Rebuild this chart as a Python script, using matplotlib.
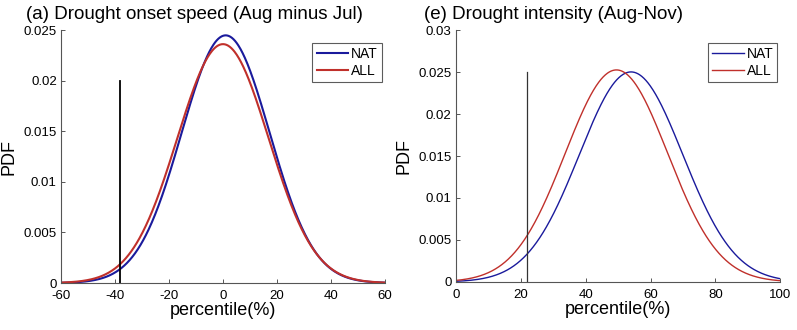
import numpy as np
import matplotlib
matplotlib.use("Agg")
import matplotlib.pyplot as plt

plt.rcParams['font.family'] = ['Liberation Sans', 'DejaVu Sans']

# Panel (a): Drought onset speed (Aug minus Jul) - normal PDF parameters
a_series = ["NAT", "ALL"]
a_mean = [1.0, 0.0]
a_std = [16.3, 16.9]
a_obs = -38.0
a_obs_top = 0.02
a_xticks = [-60, -40, -20, 0, 20, 40, 60]
a_yticks = [0, 0.005, 0.01, 0.015, 0.02, 0.025]
a_yticklabels = ["0", "0.005", "0.01", "0.015", "0.02", "0.025"]

# Panel (e): Drought intensity (Aug-Nov)
e_series = ["NAT", "ALL"]
e_mean = [54.0, 49.5]
e_std = [15.95, 15.8]
e_obs = 22.0
e_obs_top = 0.025
e_xticks = [0, 20, 40, 60, 80, 100]
e_yticks = [0, 0.005, 0.01, 0.015, 0.02, 0.025, 0.03]
e_yticklabels = ["0", "0.005", "0.01", "0.015", "0.02", "0.025", "0.03"]

colors = {"NAT": "#1a1a9c", "ALL": "#c0302b"}


def npdf(x, m, s):
    return np.exp(-0.5 * ((x - m) / s) ** 2) / (s * np.sqrt(2 * np.pi))


fig = plt.figure(figsize=(7.97, 3.30), dpi=100)
ax1 = fig.add_axes([0.0765, 0.1424, 0.4065, 0.7666])
ax2 = fig.add_axes([0.572, 0.1455, 0.407, 0.7635])


def setup(ax, xlim, ylim, xticks, yticks, yticklabels, series, means, stds,
          obs, obs_top, lw, obs_color, obs_lw, title, title_x):
    x = np.linspace(xlim[0], xlim[1], 600)
    for name, m, s in zip(series, means, stds):
        ax.plot(x, npdf(x, m, s), color=colors[name], lw=lw, label=name)
    ax.plot([obs, obs], [0, obs_top], color=obs_color, lw=obs_lw)
    ax.set_xlim(*xlim)
    ax.set_ylim(*ylim)
    ax.set_xticks(xticks)
    ax.set_xticklabels([str(t) for t in xticks])
    ax.set_yticks(yticks)
    ax.set_yticklabels(yticklabels)
    ax.tick_params(direction='in', length=3, labelsize=9.5, width=0.7,
                   colors='#555555', labelcolor='black')
    ax.tick_params(axis='x', pad=5)
    ax.tick_params(axis='y', pad=3)
    for sp in ['top', 'right']:
        ax.spines[sp].set_visible(False)
    for sp in ['left', 'bottom']:
        ax.spines[sp].set_color('#555555')
        ax.spines[sp].set_linewidth(0.8)
    ax.set_xlabel("percentile(%)", fontsize=13, labelpad=0)
    ax.set_ylabel("PDF", fontsize=13, labelpad=4)
    leg = ax.legend(loc='upper right', bbox_to_anchor=(1.0, 0.96),
                    fontsize=10, frameon=True, fancybox=False,
                    handlelength=2.3, handletextpad=0.2, borderpad=0.3,
                    labelspacing=0.2, borderaxespad=0.2)
    leg.get_frame().set_edgecolor('#333333')
    leg.get_frame().set_linewidth(0.8)
    fig.text(title_x, 0.955, title, fontsize=13.5, ha='left', va='center')


setup(ax1, (-60, 60), (0, 0.025), a_xticks, a_yticks, a_yticklabels,
      a_series, a_mean, a_std, a_obs, a_obs_top, 1.5, 'black', 1.3,
      "(a) Drought onset speed (Aug minus Jul)", 0.033)
setup(ax2, (0, 100), (0, 0.03), e_xticks, e_yticks, e_yticklabels,
      e_series, e_mean, e_std, e_obs, e_obs_top, 1.0, '#333333', 0.9,
      "(e) Drought intensity (Aug-Nov)", 0.532)

fig.savefig("out.png", dpi=100)
